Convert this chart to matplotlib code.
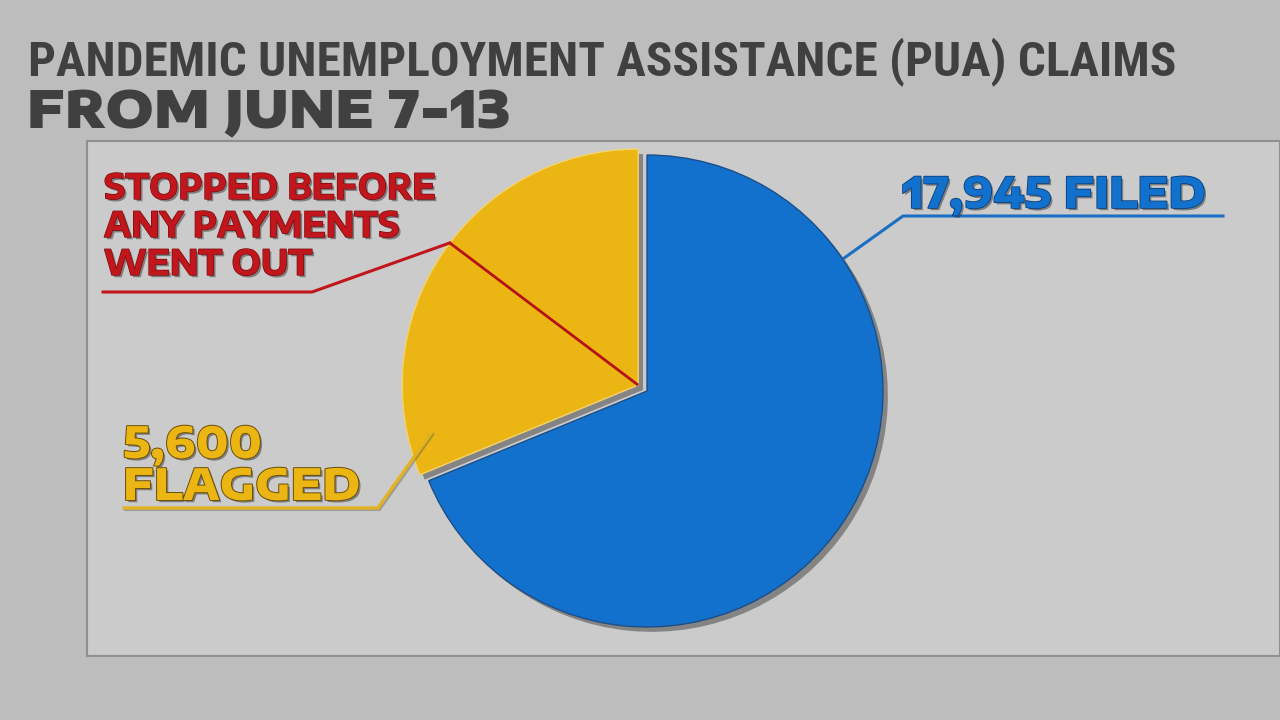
import matplotlib

matplotlib.use("Agg")
import matplotlib.pyplot as plt
import matplotlib.patheffects as pe
import numpy as np
from matplotlib.patches import Rectangle

W, H = 1280, 720

# data (claims, June 7-13)
FILED = 17945
FLAGGED = 5600
STOPPED = 2640  # share of flagged stopped before payments (estimated from divider)
LABEL_FILED = "17,945 FILED"
LABEL_FLAGGED = ["5,600", "FLAGGED"]
LABEL_STOPPED = ["STOPPED BEFORE", "ANY PAYMENTS", "WENT OUT"]
TITLE_1 = "PANDEMIC UNEMPLOYMENT ASSISTANCE (PUA) CLAIMS"
TITLE_2 = "FROM JUNE 7-13"

BG = "#bdbdbd"
PANEL = "#cbcbcb"
BLUE = "#1271cc"
YELLOW = "#ebb614"
RED = "#c2161d"
DARK = "#404040"

FONT_COND = ["Roboto Condensed", "Barlow Condensed", "DejaVu Sans"]
FONT_WIDE = ["Encode Sans Expanded", "DejaVu Sans"]
FONT_LABEL = ["Encode Sans Semi Expanded", "Open Sans", "DejaVu Sans"]

# pie placement in pixels
CX, CY, R = 647, 391, 236


def fx(x):
    return x / W


def fy(y):
    return 1 - y / H


def to_data(x, y):
    return (x - CX) / R, (CY - y) / R


def polar(center, angle, radius=1.0):
    a = np.deg2rad(angle)
    return center[0] + radius * np.cos(a), center[1] + radius * np.sin(a)


def shadowed(dark, stroke=1.2):
    return [pe.SimplePatchShadow(offset=(1.6, -1.6), shadow_rgbFace="#333333", alpha=0.5),
            pe.Stroke(linewidth=stroke, foreground=dark), pe.Normal()]


def main():
    fig = plt.figure(figsize=(12.8, 7.2), dpi=100, facecolor=BG)

    # lighter panel behind the pie
    fig.patches.append(Rectangle((fx(87), fy(656)), fx(W - 87), (656 - 141) / H,
                                 transform=fig.transFigure, facecolor=PANEL,
                                 edgecolor="#8f8f8f", linewidth=1.5, zorder=-5))

    ax = fig.add_axes([0, 0, 1, 1], zorder=2)
    ax.set_facecolor("none")

    wedges, _ = ax.pie([FLAGGED, FILED - FLAGGED], colors=[YELLOW, BLUE],
                       startangle=90, counterclock=True, explode=[0.045, 0],
                       wedgeprops=dict(linewidth=1.0))
    wedges[0].set_edgecolor("#f3d36b")
    wedges[1].set_edgecolor("#1d4e86")
    for w in wedges:
        w.set_path_effects([pe.SimplePatchShadow(offset=(3.5, -3.5), shadow_rgbFace="#4a4a4a", alpha=0.55),
                            pe.Normal()])

    x0, y0 = to_data(0, H)
    x1, y1 = to_data(W, 0)
    ax.set_xlim(x0, x1)
    ax.set_ylim(y0, y1)
    ax.set_aspect("equal")
    ax.set_axis_off()

    yc = wedges[0].center
    bc = wedges[1].center

    # red divider inside flagged slice + leader
    div_angle = 90 + 360 * STOPPED / FILED
    ex, ey = polar(yc, div_angle)
    ax.plot([yc[0], ex], [yc[1], ey], color="#b5121a", lw=2.0, solid_capstyle="butt", zorder=5)
    mx, my = to_data(312, 292)
    lx, ly = to_data(103, 292)
    ax.plot([ex, mx, lx], [ey, my, ly], color=RED, lw=2.2, zorder=5)

    # blue leader
    bx, by = polar(bc, 34, 1.01)
    mx, my = to_data(903, 216)
    lx, ly = to_data(1223, 216)
    ax.plot([bx, mx, lx], [by, my, ly], color="#1a6fc4", lw=2.2, zorder=5)

    # yellow leader
    px_, py_ = polar(yc, 193, 0.9)
    mx, my = to_data(378, 508)
    lx, ly = to_data(124, 508)
    ax.plot([px_, mx, lx], [py_, my, ly], color="#e2b21f", lw=2.4, zorder=5,
            path_effects=[pe.SimpleLineShadow(offset=(1, -1), shadow_color="#555555", alpha=0.4), pe.Normal()])

    # titles
    fig.text(fx(28), fy(75), TITLE_1, fontsize=35.5, fontweight="bold", color=DARK,
             family=FONT_COND, ha="left", va="baseline")
    fig.text(fx(27), fy(128), TITLE_2, fontsize=37, fontweight=900, color=DARK,
             family=FONT_WIDE, ha="left", va="baseline")

    # labels
    for line, base in zip(LABEL_STOPPED, [199, 237, 275]):
        fig.text(fx(104), fy(base), line, fontsize=25, fontweight="bold", color=RED,
                 family=FONT_LABEL, ha="left", va="baseline",
                 path_effects=shadowed("#7a0c10", 1.0))
    fig.text(fx(902), fy(208), LABEL_FILED, fontsize=30.5, fontweight=800, color=BLUE,
             family=FONT_WIDE, ha="left", va="baseline",
             path_effects=shadowed("#0b3f78", 1.2))
    for line, base in zip(LABEL_FLAGGED, [458, 500]):
        fig.text(fx(123), fy(base), line, fontsize=31, fontweight=800, color=YELLOW,
                 family=FONT_WIDE, ha="left", va="baseline",
                 path_effects=shadowed("#6b4d05", 1.4))

    fig.savefig("out.png", dpi=100, facecolor=BG)


if __name__ == "__main__":
    main()
